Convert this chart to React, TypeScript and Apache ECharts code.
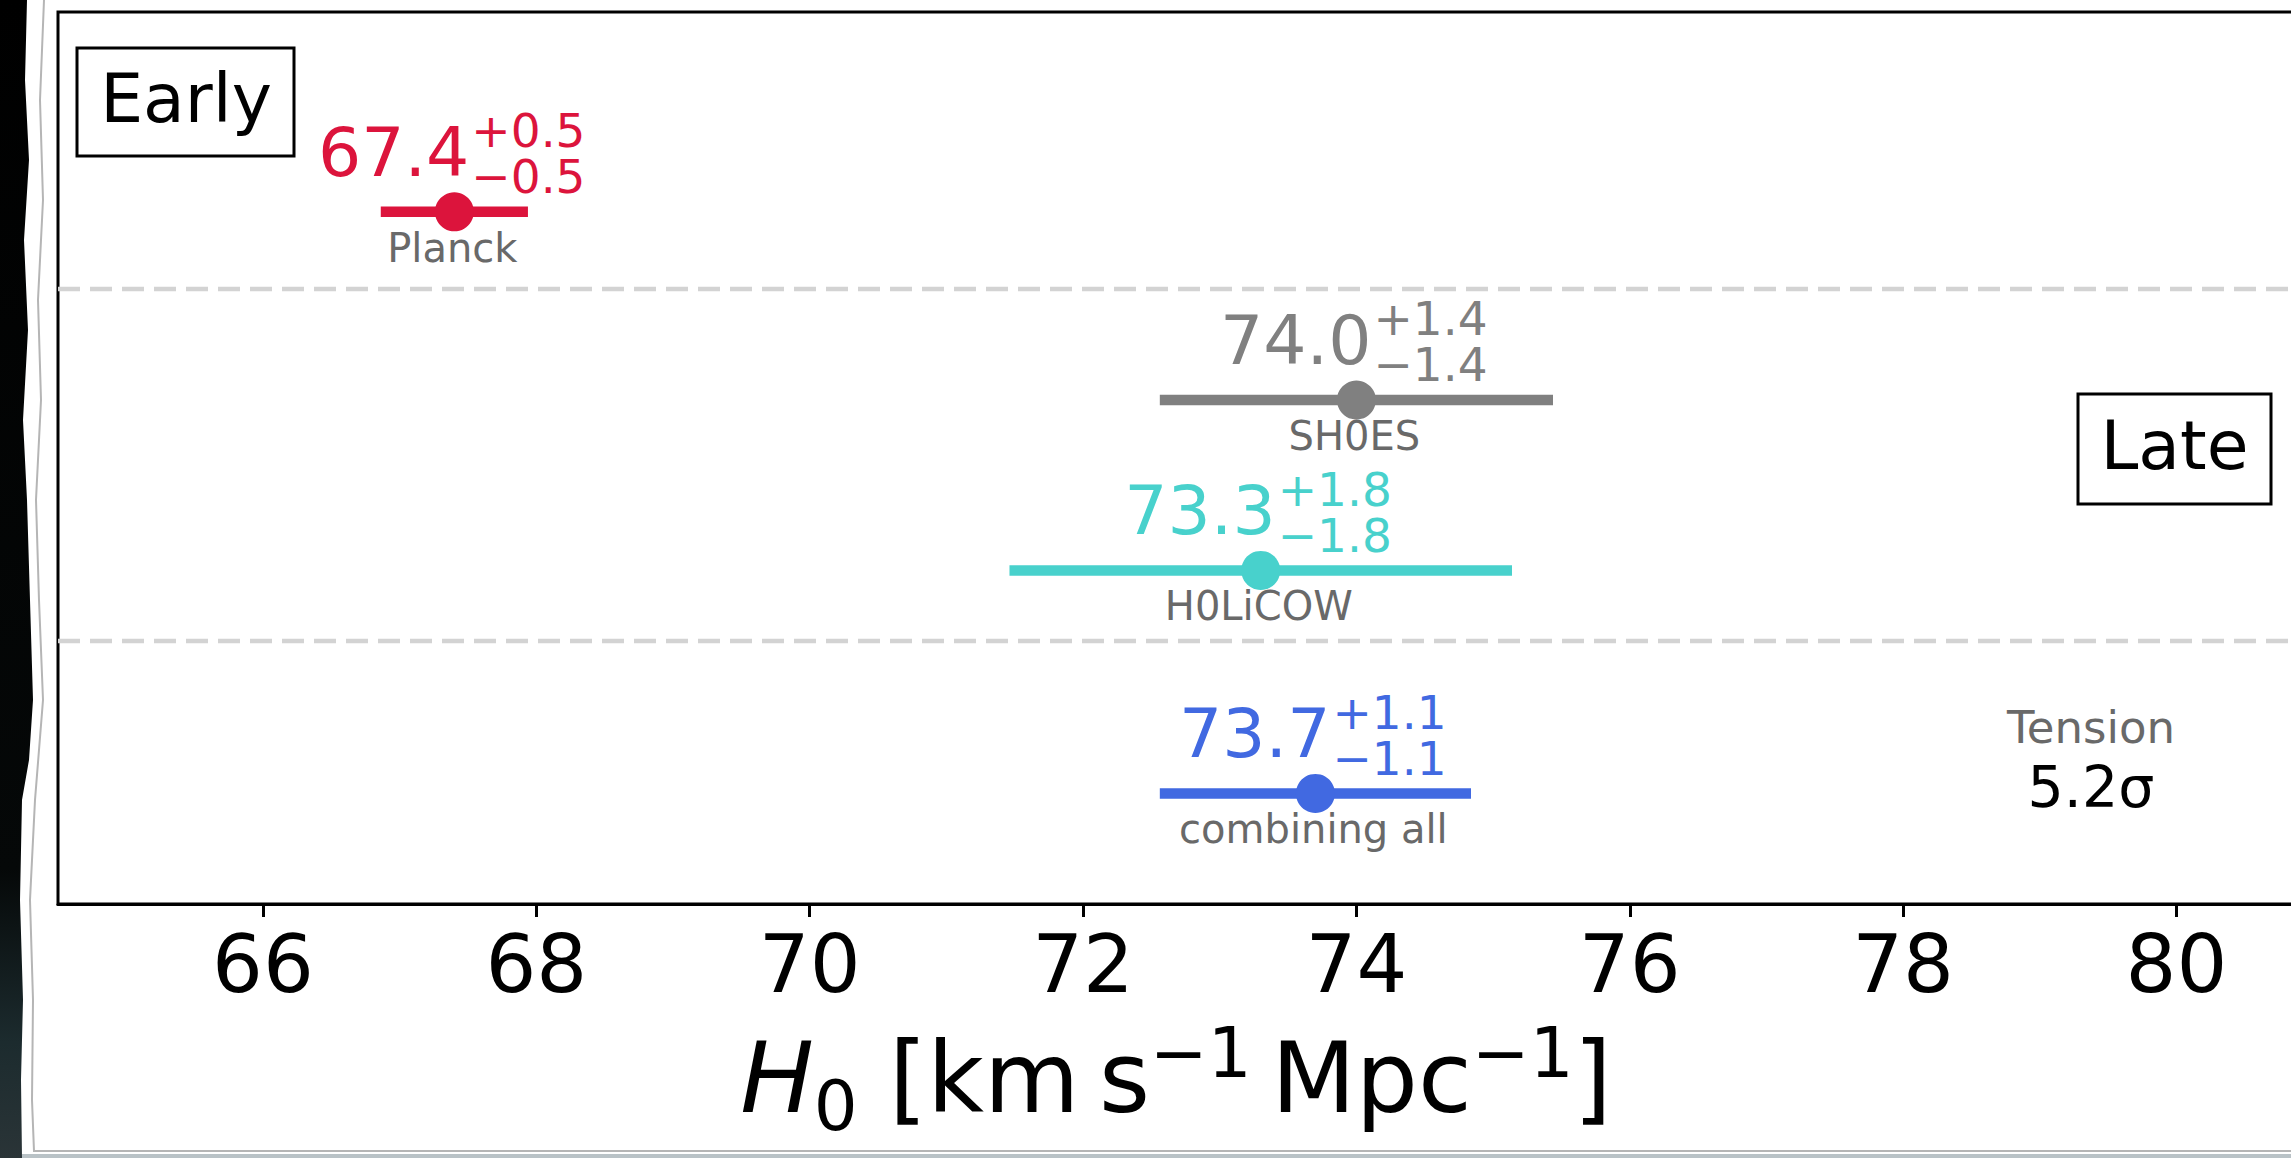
import React, { useEffect, useRef } from "react";
import * as echarts from "echarts";

// ---- data ----
const names = ["Planck", "SH0ES", "H0LiCOW", "combining all"];
const h0Values = [67.4, 74.0, 73.3, 73.7];
const errUpper = [0.5, 1.4, 1.8, 1.1];
const errLower = [0.5, 1.4, 1.8, 1.1];
const rowPositions = [0.776, 0.565, 0.374, 0.124];
const dividerPositions = [0.6894, 0.2948];
const xTickValues = [66, 68, 70, 72, 74, 76, 78, 80];
const groupLabels = ["Early", "Late"];
const tensionLabel = "Tension";
const tensionValue = "5.2σ";

// ---- styles ----
const COLORS = ["#DC143C", "#808080", "#48D1CC", "#4169E1"];
const LABEL_COLOR = "#696969";
const FONT = '"DejaVu Sans", "Noto Sans", sans-serif';
const X_MIN = 64.5;
const X_MAX = 80.86;

export default function App() {
  const ref = useRef<HTMLDivElement>(null);

  useEffect(() => {
    if (!ref.current) return;
    const chart = echarts.init(ref.current, undefined, { renderer: "svg" });

    const pointData = h0Values.map((v, i) => [v, rowPositions[i], v - errLower[i], v + errUpper[i]]);

    const option: any = {
      animation: false,
      backgroundColor: "#ffffff",
      grid: {
        left: 58,
        right: -3,
        top: 12,
        bottom: 254,
        show: true,
        borderColor: "#000000",
        borderWidth: 3,
        backgroundColor: "transparent",
        containLabel: false,
        outerBoundsMode: "none",
      },
      xAxis: {
        type: "value",
        min: X_MIN,
        max: X_MAX,
        splitLine: { show: false },
        axisLine: { show: true, onZero: false, lineStyle: { color: "#000", width: 3 } },
        axisTick: {
          show: true,
          inside: false,
          length: 13,
          customValues: xTickValues,
          lineStyle: { color: "#000", width: 3 },
        },
        axisLabel: {
          show: true,
          customValues: xTickValues,
          fontFamily: "DejaVu Sans",
          fontSize: 80,
          color: "#000",
          margin: 20,
          formatter: (v: number) => String(Math.round(v)),
        },
        name: "{i|H}{sub|0}{n| [km\u2009s}{sup|\u22121}{n|\u2009Mpc}{sup|\u22121}{n|]}",
        nameLocation: "middle",
        nameGap: 118,
        nameMoveOverlap: false,
        nameTextStyle: {
          fontFamily: "DejaVu Sans",
          fontSize: 98,
          color: "#000",
          rich: {
            i: { fontFamily: "DejaVu Sans", fontStyle: "italic", fontSize: 98, lineHeight: 112, color: "#000" },
            n: { fontFamily: "DejaVu Sans", fontSize: 98, lineHeight: 112, color: "#000" },
            sup: { fontFamily: "DejaVu Sans", fontSize: 69, height: 62, verticalAlign: "top", color: "#000" },
            sub: { fontFamily: "DejaVu Sans", fontSize: 69, height: 56, verticalAlign: "bottom", color: "#000" },
          },
        },
      },
      yAxis: {
        type: "value",
        min: 0,
        max: 1,
        show: false,
        splitLine: { show: false },
      },
      series: [
        {
          type: "custom",
          name: "dividers",
          z: 1,
          silent: true,
          data: dividerPositions.map((y) => [X_MIN, y]),
          renderItem: (params: any, api: any) => {
            const cs = params.coordSys;
            const p = api.coord([X_MIN, api.value(1)]);
            return {
              type: "line",
              shape: { x1: cs.x, y1: p[1], x2: cs.x + cs.width, y2: p[1] },
              style: { stroke: "#d3d3d3", lineWidth: 4.5, lineDash: [22, 10] },
            };
          },
        },
        {
          type: "custom",
          name: "measurements",
          z: 3,
          data: pointData,
          renderItem: (params: any, api: any) => {
            const i = params.dataIndex;
            const xv = api.value(0);
            const yv = api.value(1);
            const c = api.coord([xv, yv]);
            const a = api.coord([api.value(2), yv]);
            const b = api.coord([api.value(3), yv]);
            const color = COLORS[i];
            return {
              type: "group",
              children: [
                {
                  type: "line",
                  shape: { x1: a[0], y1: a[1], x2: b[0], y2: b[1] },
                  style: { stroke: color, lineWidth: 10.5, lineCap: "square" },
                },
                {
                  type: "circle",
                  shape: { cx: c[0], cy: c[1], r: 19.5 },
                  style: { fill: color },
                },
                {
                  type: "text",
                  x: c[0] + 15,
                  y: c[1] - 59.5,
                  style: {
                    text: h0Values[i].toFixed(1),
                    fill: color,
                    font: `68px ${FONT}`,
                    align: "right",
                    verticalAlign: "middle",
                  },
                },
                {
                  type: "text",
                  x: c[0] + 17,
                  y: c[1] - 81.3,
                  style: {
                    text: "+" + errUpper[i].toFixed(1),
                    fill: color,
                    font: `47px ${FONT}`,
                    align: "left",
                    verticalAlign: "middle",
                  },
                },
                {
                  type: "text",
                  x: c[0] + 17,
                  y: c[1] - 35.3,
                  style: {
                    text: "\u2212" + errLower[i].toFixed(1),
                    fill: color,
                    font: `47px ${FONT}`,
                    align: "left",
                    verticalAlign: "middle",
                  },
                },
                {
                  type: "text",
                  x: c[0] - 2,
                  y: c[1] + 36,
                  style: {
                    text: names[i],
                    fill: LABEL_COLOR,
                    font: `40px ${FONT}`,
                    align: "center",
                    verticalAlign: "middle",
                  },
                },
              ],
            };
          },
        },
      ],
      graphic: [
        // torn paper edge (decoration)
        {
          type: "polygon",
          z: 10,
          silent: true,
          shape: {
            points: [
              [0, 0], [27, 0], [25, 80], [29, 160], [24, 240], [28, 330], [23, 420], [27, 500],
              [30, 600], [33, 700], [29, 760], [22, 800], [20, 900], [23, 1000], [21, 1080],
              [22, 1158], [0, 1158],
            ],
          },
          style: {
            fill: {
              type: "linear", x: 0, y: 0, x2: 0, y2: 1,
              colorStops: [
                { offset: 0, color: "#000000" },
                { offset: 0.75, color: "#050808" },
                { offset: 0.9, color: "#1c2b2e" },
                { offset: 1, color: "#2a3437" },
              ],
            },
          },
        },
        {
          type: "polyline",
          z: 10,
          silent: true,
          shape: {
            points: [
              [44, 0], [40, 100], [43, 200], [38, 300], [41, 400], [36, 500], [39, 600],
              [43, 700], [35, 800], [30, 900], [33, 1000], [32, 1100], [34, 1151], [2291, 1151],
            ],
          },
          style: { stroke: "#b5b5b5", lineWidth: 2, fill: null },
        },
        {
          type: "rect",
          z: 10,
          silent: true,
          shape: { x: 22, y: 1154, width: 2269, height: 4 },
          style: { fill: "#b9c2c6" },
        },
        // group boxes
        {
          type: "rect",
          z: 10,
          shape: { x: 77, y: 48, width: 217, height: 108 },
          style: { fill: "#fff", stroke: "#000", lineWidth: 3 },
        },
        {
          type: "text",
          z: 11,
          x: 186,
          y: 98.5,
          style: { text: groupLabels[0], fill: "#000", font: `68px ${FONT}`, align: "center", verticalAlign: "middle" },
        },
        {
          type: "rect",
          z: 10,
          shape: { x: 2078, y: 394, width: 193, height: 110 },
          style: { fill: "#fff", stroke: "#000", lineWidth: 3 },
        },
        {
          type: "text",
          z: 11,
          x: 2174.5,
          y: 445,
          style: { text: groupLabels[1], fill: "#000", font: `68px ${FONT}`, align: "center", verticalAlign: "middle" },
        },
        {
          type: "text",
          z: 11,
          x: 2091,
          y: 727,
          style: { text: tensionLabel, fill: LABEL_COLOR, font: `45px ${FONT}`, align: "center", verticalAlign: "middle" },
        },
        {
          type: "text",
          z: 11,
          x: 2091,
          y: 787,
          style: { text: tensionValue, fill: "#000", font: `57px ${FONT}`, align: "center", verticalAlign: "middle" },
        },
      ],
    };

    chart.setOption(option);
    return () => {
      chart.dispose();
    };
  }, []);

  return (
    <div
      ref={ref}
      style={{ position: "fixed", left: 0, top: 0, width: 2291, height: 1158, background: "#fff" }}
    />
  );
}
